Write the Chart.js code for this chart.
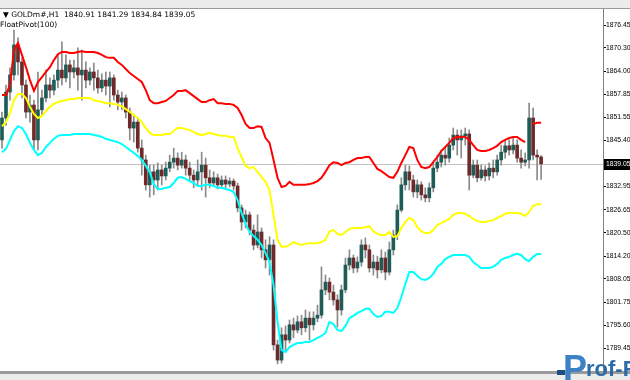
<!DOCTYPE html>
<html>
<head>
<meta charset="utf-8">
<script src="https://cdn.jsdelivr.net/npm/chart.js@4.4.0/dist/chart.umd.min.js"></script>
<style>
  html, body { margin: 0; padding: 0; background: #fff; }
  #wrap { width: 630px; height: 380px; }
</style>
</head>
<body>
<div id="wrap"><canvas id="chart" width="630" height="380"></canvas></div>
<script>
// GOLDm#, H1 candles
var opens = [
  1845.5, 1851.4, 1858.4, 1863.0, 1871.1, 1866.5, 1860.3, 1853.0, 1854.9, 1845.5,
  1853.6, 1856.8, 1860.3, 1858.9, 1861.6, 1864.3, 1862.2, 1865.7, 1863.8, 1864.9,
  1863.0, 1864.3, 1861.6, 1863.8, 1862.2, 1859.5, 1861.6, 1860.0, 1862.2, 1857.6,
  1855.7, 1856.8, 1853.0, 1848.7, 1850.3, 1843.3, 1840.1, 1833.4, 1836.9, 1834.7,
  1837.4, 1835.8, 1837.9, 1839.5, 1840.6, 1838.7, 1840.1, 1837.9, 1836.0, 1834.7,
  1836.9, 1838.7, 1835.3, 1833.9, 1835.3, 1833.4, 1834.7, 1833.6, 1834.4, 1833.1,
  1827.2, 1823.4, 1825.3, 1821.2, 1817.2, 1820.7, 1815.9, 1813.2, 1817.2, 1790.3,
  1786.2, 1793.0, 1791.6, 1795.7, 1794.3, 1796.5, 1794.9, 1797.5, 1795.7, 1797.5,
  1798.3, 1805.1, 1807.2, 1804.5, 1802.4, 1799.7, 1805.1, 1811.8, 1813.7, 1811.0,
  1812.6, 1817.2, 1815.9, 1811.0, 1812.6, 1810.5, 1813.7, 1809.9, 1815.9, 1819.9,
  1826.6, 1833.4, 1836.9, 1834.7, 1831.5, 1833.4, 1830.7, 1829.9, 1832.6, 1837.9,
  1839.5, 1841.4, 1840.6, 1844.1, 1846.8, 1845.5, 1846.6, 1847.1, 1836.0, 1838.7,
  1835.3, 1837.4, 1835.8, 1837.9, 1836.9, 1840.1, 1842.2, 1843.9, 1842.8, 1844.1,
  1840.6, 1839.5, 1840.1, 1851.4, 1841.4, 1840.91
];
var highs = [
  1853.0, 1860.3, 1864.9, 1875.1, 1873.0, 1867.6, 1861.6, 1857.6, 1856.2, 1863.8,
  1858.9, 1864.3, 1862.2, 1863.0, 1868.4, 1871.9, 1868.4, 1867.0, 1867.0, 1870.3,
  1869.7, 1866.5, 1864.9, 1866.2, 1864.3, 1863.3, 1863.8, 1863.8, 1863.0, 1858.9,
  1858.4, 1857.6, 1854.1, 1852.2, 1851.4, 1845.5, 1841.4, 1838.7, 1838.7, 1839.3,
  1838.7, 1839.5, 1841.4, 1843.3, 1842.0, 1842.2, 1841.4, 1839.5, 1837.4, 1840.1,
  1842.2, 1840.6, 1837.4, 1836.9, 1836.3, 1835.8, 1835.8, 1835.3, 1835.0, 1833.9,
  1828.0, 1826.6, 1826.1, 1822.6, 1825.3, 1821.8, 1818.6, 1819.4, 1818.6, 1791.6,
  1794.9, 1795.4, 1797.0, 1797.5, 1798.1, 1798.3, 1799.7, 1799.2, 1799.2, 1801.0,
  1811.3, 1809.1, 1808.3, 1806.4, 1803.8, 1806.4, 1813.7, 1815.9, 1814.5, 1814.0,
  1818.6, 1819.1, 1817.2, 1814.5, 1814.2, 1815.9, 1815.3, 1818.0, 1821.2, 1828.0,
  1835.3, 1838.7, 1838.5, 1836.0, 1834.7, 1834.2, 1832.6, 1833.9, 1839.3, 1841.4,
  1842.8, 1843.3, 1846.0, 1848.7, 1848.2, 1848.2, 1848.7, 1848.2, 1840.1, 1840.1,
  1838.7, 1838.5, 1839.3, 1840.1, 1841.4, 1844.1, 1845.5, 1845.5, 1846.0, 1845.5,
  1842.8, 1842.0, 1855.4, 1854.1, 1842.8, 1841.29
];
var lows = [
  1843.3, 1849.5, 1856.2, 1861.6, 1863.0, 1856.8, 1851.4, 1850.3, 1842.8, 1842.8,
  1852.2, 1855.7, 1856.8, 1857.6, 1859.5, 1860.3, 1861.1, 1859.5, 1862.2, 1858.9,
  1856.2, 1859.5, 1860.3, 1858.9, 1858.1, 1858.4, 1857.6, 1854.4, 1856.2, 1853.6,
  1853.6, 1851.4, 1845.5, 1844.9, 1842.2, 1836.0, 1832.0, 1830.1, 1830.7, 1832.0,
  1833.4, 1834.7, 1836.9, 1837.9, 1837.4, 1837.9, 1836.0, 1834.2, 1832.6, 1833.4,
  1832.0, 1830.1, 1832.6, 1833.1, 1832.3, 1832.6, 1832.6, 1832.8, 1832.0, 1826.1,
  1821.2, 1821.8, 1819.9, 1815.9, 1816.4, 1813.7, 1811.0, 1809.1, 1788.9, 1785.2,
  1785.4, 1788.4, 1790.8, 1792.2, 1793.5, 1793.0, 1793.8, 1791.6, 1794.3, 1796.5,
  1797.5, 1803.8, 1802.4, 1801.0, 1795.1, 1798.3, 1804.3, 1810.5, 1809.7, 1809.9,
  1811.5, 1813.7, 1809.9, 1809.1, 1808.3, 1809.7, 1807.8, 1809.1, 1814.5, 1818.6,
  1826.1, 1832.0, 1832.0, 1830.1, 1829.9, 1829.3, 1828.8, 1828.8, 1831.5, 1836.9,
  1838.2, 1838.7, 1839.5, 1842.8, 1841.4, 1840.6, 1844.1, 1832.0, 1835.3, 1834.2,
  1834.7, 1834.4, 1834.7, 1835.3, 1836.0, 1838.7, 1840.6, 1841.4, 1841.7, 1839.5,
  1837.9, 1838.5, 1837.9, 1840.1, 1834.7, 1834.84
];
var closes = [
  1851.4, 1858.4, 1863.0, 1871.1, 1866.5, 1860.3, 1853.0, 1854.9, 1845.5, 1853.6,
  1856.8, 1860.3, 1858.9, 1861.6, 1864.3, 1862.2, 1865.7, 1863.8, 1864.9, 1863.0,
  1864.3, 1861.6, 1863.8, 1862.2, 1859.5, 1861.6, 1860.0, 1862.2, 1857.6, 1855.7,
  1856.8, 1853.0, 1848.7, 1850.3, 1843.3, 1840.1, 1833.4, 1836.9, 1834.7, 1837.4,
  1835.8, 1837.9, 1839.5, 1840.6, 1838.7, 1840.1, 1837.9, 1836.0, 1834.7, 1836.9,
  1838.7, 1835.3, 1833.9, 1835.3, 1833.4, 1834.7, 1833.6, 1834.4, 1833.1, 1827.2,
  1823.4, 1825.3, 1821.2, 1817.2, 1820.7, 1815.9, 1813.2, 1817.2, 1790.3, 1786.2,
  1793.0, 1791.6, 1795.7, 1794.3, 1796.5, 1794.9, 1797.5, 1795.7, 1797.5, 1798.3,
  1805.1, 1807.2, 1804.5, 1802.4, 1799.7, 1805.1, 1811.8, 1813.7, 1811.0, 1812.6,
  1817.2, 1815.9, 1811.0, 1812.6, 1810.5, 1813.7, 1809.9, 1815.9, 1819.9, 1826.6,
  1833.4, 1836.9, 1834.7, 1831.5, 1833.4, 1830.7, 1829.9, 1832.6, 1837.9, 1839.5,
  1841.4, 1840.6, 1844.1, 1846.8, 1845.5, 1846.6, 1847.1, 1836.0, 1838.7, 1835.3,
  1837.4, 1835.8, 1837.9, 1836.9, 1840.1, 1842.2, 1843.9, 1842.8, 1844.1, 1840.6,
  1839.5, 1840.1, 1851.4, 1841.4, 1840.9, 1839.05
];

// FloatPivot(100) lines
var pivotUpper = [
  1857.6, 1857.6, 1860.3, 1869.7, 1871.6, 1868.4, 1865.1, 1861.6, 1858.7, 1861.1,
  1862.4, 1863.8, 1865.1, 1867.0, 1868.6, 1869.2, 1869.2, 1868.9, 1868.9, 1869.2,
  1869.4, 1869.2, 1869.2, 1869.2, 1868.9, 1868.4, 1867.8, 1867.6, 1867.6, 1866.5,
  1865.7, 1864.6, 1863.5, 1862.7, 1861.9, 1861.1, 1858.9, 1856.2, 1855.4, 1855.4,
  1855.7, 1856.0, 1856.8, 1857.6, 1858.7, 1858.7, 1858.9, 1858.1, 1857.3, 1856.5,
  1855.7, 1855.7, 1856.2, 1856.5, 1855.4, 1855.4, 1855.2, 1855.2, 1854.9, 1854.1,
  1852.2, 1849.8, 1848.7, 1848.7, 1849.2, 1849.0, 1846.0, 1844.7, 1840.1, 1835.3,
  1832.8, 1833.1, 1834.2, 1833.4, 1833.4, 1833.4, 1833.4, 1833.6, 1833.9, 1834.4,
  1835.3, 1836.9, 1838.7, 1839.5, 1839.3, 1838.7, 1839.3, 1839.5, 1840.1, 1840.6,
  1840.6, 1840.9, 1840.9, 1839.3, 1837.7, 1837.1, 1836.3, 1835.5, 1835.3, 1836.9,
  1839.3, 1841.4, 1843.6, 1843.3, 1840.1, 1838.2, 1837.9, 1838.2, 1839.5, 1840.9,
  1842.5, 1843.6, 1844.7, 1846.0, 1846.3, 1846.3, 1846.3, 1845.5, 1844.1, 1842.8,
  1842.5, 1842.5, 1842.8, 1843.3, 1843.9, 1844.9, 1845.5, 1846.0, 1846.3, 1846.3,
  1845.5, 1844.9, null, 1849.8, 1850.1, 1850.1
];
var pivotMiddle = [
  1849.2, 1850.3, 1852.8, 1856.2, 1857.9, 1857.9, 1856.8, 1854.4, 1852.5, 1851.4,
  1851.9, 1853.3, 1854.4, 1855.2, 1855.7, 1856.0, 1856.2, 1856.5, 1856.5, 1856.8,
  1856.8, 1856.8, 1856.8, 1856.2, 1856.0, 1855.7, 1855.4, 1855.4, 1855.2, 1854.9,
  1854.6, 1853.8, 1853.0, 1852.2, 1851.4, 1850.3, 1848.7, 1847.4, 1846.8, 1846.8,
  1846.8, 1847.1, 1847.1, 1847.9, 1848.7, 1848.7, 1848.4, 1848.2, 1847.6, 1847.1,
  1846.8, 1847.1, 1847.4, 1847.1, 1846.8, 1846.6, 1846.6, 1846.3, 1846.3, 1843.3,
  1840.9, 1838.5, 1837.9, 1838.2, 1836.9, 1835.5, 1834.2, 1832.0, 1825.3, 1818.6,
  1816.7, 1816.7, 1817.2, 1818.0, 1817.5, 1817.2, 1817.5, 1817.7, 1817.7, 1817.7,
  1818.0, 1818.6, 1820.9, 1821.2, 1820.2, 1819.9, 1820.7, 1821.5, 1821.8, 1821.8,
  1821.8, 1822.0, 1822.3, 1820.9, 1820.2, 1819.9, 1819.9, 1820.7, 1819.4, 1819.6,
  1821.8, 1823.4, 1824.5, 1823.9, 1822.0, 1820.9, 1820.4, 1820.4, 1821.2, 1822.6,
  1823.1, 1823.7, 1824.2, 1825.3, 1825.8, 1825.8, 1825.6, 1825.0, 1824.2, 1823.7,
  1823.4, 1823.4, 1823.7, 1823.9, 1824.5, 1825.0, 1825.6, 1825.8, 1825.8, 1825.8,
  1825.6, 1825.0, 1826.1, 1827.7, 1828.2, 1828.2
];
var pivotLower = [
  1842.2, 1843.1, 1845.5, 1847.9, 1849.2, 1848.7, 1847.1, 1844.7, 1842.8, 1841.4,
  1842.0, 1843.6, 1844.7, 1845.8, 1846.6, 1846.8, 1846.8, 1846.8, 1847.1, 1847.1,
  1847.1, 1847.1, 1847.1, 1846.8, 1846.6, 1846.3, 1845.8, 1845.5, 1845.2, 1844.9,
  1844.4, 1843.6, 1842.8, 1842.0, 1841.2, 1840.1, 1838.5, 1836.9, 1833.6, 1832.3,
  1832.3, 1832.6, 1832.8, 1833.9, 1835.3, 1835.5, 1835.0, 1834.4, 1833.9, 1833.1,
  1833.1, 1833.4, 1833.4, 1833.1, 1832.6, 1832.6, 1832.3, 1832.0, 1831.5, 1829.3,
  1825.8, 1822.9, 1820.7, 1819.6, 1818.6, 1817.2, 1815.0, 1812.6, 1806.4, 1796.5,
  1788.9, 1788.4, 1789.7, 1790.3, 1790.8, 1790.8, 1791.1, 1791.1, 1791.6, 1792.2,
  1792.7, 1793.5, 1796.5, 1795.9, 1794.3, 1794.0, 1795.4, 1797.5, 1798.1, 1798.9,
  1799.4, 1800.0, 1800.0, 1798.6, 1797.8, 1798.1, 1799.2, 1799.2, 1798.9, 1800.2,
  1803.2, 1806.7, 1809.9, 1809.9, 1808.9, 1808.0, 1807.8, 1808.3, 1809.4, 1811.3,
  1812.1, 1813.4, 1814.0, 1814.5, 1814.5, 1814.5, 1814.5, 1814.0, 1812.6, 1811.8,
  1811.0, 1811.0, 1811.0, 1811.3, 1812.1, 1813.2, 1813.7, 1814.0, 1814.5, 1814.8,
  1814.5, 1813.4, 1812.9, 1814.0, 1814.8, 1814.8
];

// price scale labels shown on the right axis
var priceTicks = [1876.45, 1870.30, 1864.00, 1857.85, 1851.55, 1845.40,
                  1832.95, 1826.65, 1820.50, 1814.20, 1808.05, 1801.75, 1795.60, 1789.45];

var symbolLine = "\u25BC GOLDm#,H1  1840.91 1841.29 1834.84 1839.05";
var indicatorName = "FloatPivot(100)";
var lastPrice = 1839.05;

// one slot per hourly bar, plus empty slots for the right margin
var barSlots = [];
for (var s = 0; s < 151; s++) barSlots.push(String(s));

var bodies = opens.map(function (o, i) { return [o, closes[i]]; });
var wicks = lows.map(function (l, i) { return [l, highs[i]]; });
var bodyColors = opens.map(function (o, i) {
  return closes[i] >= o ? "#1f5c57" : "#6e2a2a";
});

var mtOverlay = {
  id: "mtOverlay",
  beforeDraw: function (chart) {
    var ctx = chart.ctx;
    ctx.save();
    ctx.fillStyle = "#ffffff";
    ctx.fillRect(0, 0, chart.width, chart.height);
    ctx.fillStyle = "#ececec";
    ctx.fillRect(0, 0, chart.width, 8);
    ctx.fillStyle = "#9a9a9a";
    ctx.fillRect(0, 8, chart.width, 1);
    ctx.fillRect(0, 371, chart.width, 3);
    ctx.fillStyle = "#ececec";
    ctx.fillRect(0, 374, chart.width, 6);
    ctx.restore();
  },
  beforeDatasetsDraw: function (chart) {
    var ctx = chart.ctx;
    var area = chart.chartArea;
    var y = Math.round(chart.scales.y.getPixelForValue(lastPrice)) + 0.5;
    ctx.save();
    ctx.strokeStyle = "#c4c4c4";
    ctx.lineWidth = 1;
    ctx.beginPath();
    ctx.moveTo(area.left, y);
    ctx.lineTo(area.right, y);
    ctx.stroke();
    ctx.restore();
  },
  afterDraw: function (chart) {
    var ctx = chart.ctx;
    var area = chart.chartArea;
    var y = Math.round(chart.scales.y.getPixelForValue(lastPrice));
    ctx.save();
    // header texts
    ctx.fillStyle = "#000";
    ctx.font = "7.5px 'DejaVu Sans'";
    ctx.textBaseline = "middle";
    ctx.fillText(symbolLine, 3, 15);
    ctx.fillText(indicatorName, 0, 25);
    // current price box
    ctx.fillStyle = "#000";
    ctx.fillRect(area.right + 1, y - 5, chart.width - area.right - 1, 11);
    ctx.fillStyle = "#fff";
    ctx.font = "6.8px 'Liberation Sans'";
    ctx.fillText(lastPrice.toFixed(2), area.right + 3, y + 0.5);
    // watermark
    ctx.textBaseline = "alphabetic";
    ctx.fillStyle = "#1f4f80";
    ctx.fillRect(557, 370, 8, 5);
    ctx.fillStyle = "#3f82c4";
    ctx.font = "bold 36px 'Liberation Sans'";
    ctx.fillText("P", 563, 381);
    ctx.fillStyle = "#2d6ba8";
    ctx.font = "bold 22px 'Liberation Sans'";
    ctx.fillText("rof-FX", 586, 376);
    ctx.restore();
  }
};

new Chart(document.getElementById("chart"), {
  data: {
    labels: barSlots,
    datasets: [
      {
        type: "line",
        label: "upper",
        data: pivotUpper,
        borderColor: "#ff0000",
        borderWidth: 2,
        pointRadius: 0,
        tension: 0,
        order: 0
      },
      {
        type: "line",
        label: "middle",
        data: pivotMiddle,
        borderColor: "#ffff00",
        borderWidth: 2,
        pointRadius: 0,
        tension: 0,
        order: 0
      },
      {
        type: "line",
        label: "lower",
        data: pivotLower,
        borderColor: "#00ffff",
        borderWidth: 2,
        pointRadius: 0,
        tension: 0,
        order: 0
      },
      {
        type: "bar",
        label: "body",
        data: bodies,
        backgroundColor: bodyColors,
        borderWidth: 0,
        barThickness: 3,
        grouped: false,
        order: 1
      },
      {
        type: "bar",
        label: "wick",
        data: wicks,
        backgroundColor: "#8a8a8a",
        borderWidth: 0,
        barThickness: 1,
        grouped: false,
        order: 2
      }
    ]
  },
  options: {
    responsive: false,
    animation: false,
    events: [],
    layout: { padding: { top: 9, bottom: 9, left: 0, right: 0 } },
    plugins: {
      legend: { display: false },
      tooltip: { enabled: false }
    },
    scales: {
      x: {
        type: "category",
        display: false,
        offset: true
      },
      y: {
        position: "right",
        min: 1783.26,
        max: 1880.76,
        afterBuildTicks: function (scale) {
          scale.ticks = priceTicks.map(function (v) { return { value: v }; });
        },
        afterFit: function (scale) {
          scale.width = 27;
        },
        ticks: {
          autoSkip: false,
          padding: 0,
          color: "#000",
          font: { family: "'Liberation Sans'", size: 6.8 },
          callback: function (value) { return Number(value).toFixed(2); }
        },
        grid: { drawOnChartArea: false, tickLength: 3, color: "#000" },
        border: { color: "#808080" }
      }
    }
  },
  plugins: [mtOverlay]
});
</script>
</body>
</html>
